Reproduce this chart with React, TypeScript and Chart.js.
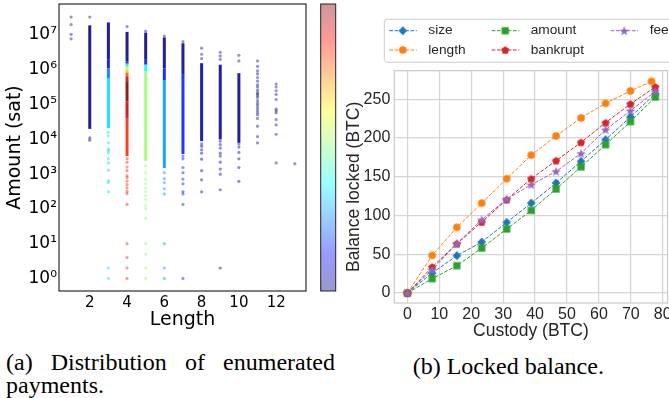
import React, { useEffect, useRef } from "react";
import { Chart, registerables } from "chart.js";

Chart.register(...registerables);

// ================= (a) Distribution of enumerated payments =================
const lengthTicks = [2, 4, 6, 8, 10, 12];
const amountTicks = [1, 10, 100, 1e3, 1e4, 1e5, 1e6, 1e7];
const amountTickLabels = ["10⁰", "10¹", "10²", "10³", "10⁴", "10⁵", "10⁶", "10⁷"];

const pathLengths = [1, 2, 3, 4, 5, 6, 7, 8, 9, 10, 11, 12, 13];

// dense runs of payments: length, lowest / highest amount (sat), density level (0..1)
const runLength = [2, 3, 3, 3, 3, 4, 4, 4, 4, 4, 4, 4, 4, 4, 4, 5, 5, 5, 5, 6, 6, 6, 7, 7, 8, 9, 10];
const runLow = [2.0e4, 1.95e6, 1.1e6, 5.8e5, 2.1e4, 1.75e6, 1.5e6, 1.23e6, 1.0e6, 8.3e5, 6.5e5, 4.7e5, 1.23e5, 4.1e4, 3.3e3, 1.95e6, 1.4e6, 9e5, 2.4e3, 1.1e6, 5.1e5, 1.5e3, 7.2e5, 3.8e3, 8.9e3, 1.0e4, 8.0e3];
const runHigh = [1.9e7, 2.3e7, 1.95e6, 1.1e6, 5.8e5, 1.23e7, 1.75e6, 1.5e6, 1.23e6, 1.0e6, 8.3e5, 6.5e5, 4.7e5, 1.23e5, 4.1e4, 1.17e7, 1.95e6, 1.4e6, 9e5, 8.5e6, 1.1e6, 5.1e5, 5.8e6, 7.2e5, 1.55e6, 1.4e6, 8.0e5];
const runDensity = [0.0, 0.0, 0.13, 0.24, 0.34, 0.0, 0.14, 0.36, 0.56, 0.68, 0.8, 0.9, 1.0, 0.92, 0.84, 0.0, 0.14, 0.38, 0.52, 0.01, 0.14, 0.27, 0.02, 0.15, 0.04, 0.03, 0.02];

// isolated payments (sat) per length: low-density ones, and ones in the column's colour
const sparseLow: number[][] = [
  [3.3e7, 2.0e7, 1.05e7, 7.8e6],
  [3.3e7],
  [],
  [1.75e7],
  [1.3e7],
  [9.3e6],
  [6.5e6],
  [4.2e6, 2.8e6, 2.1e6],
  [3.2e6, 2.5e6, 2.0e6],
  [2.6e6, 1.8e6],
  [1.8e6, 1.26e6, 9.3e5, 7.6e5, 6.0e5, 4.7e5, 3.7e5, 3.2e5, 2.6e5, 2.2e5, 2.0e5, 1.8e5, 1.6e5, 1.3e5, 1.1e5, 9.5e4, 8.0e4, 6.8e4, 5.8e4, 5.1e4, 4.0e4, 2.4e4, 1.2e4, 7.9e3],
  [3.9e5, 3.2e5, 2.5e5, 1.95e5, 1.4e5, 7.4e4, 6.6e4, 5.8e4, 3.7e4, 2.6e4, 1.4e4, 2.1e3],
  [2.0e3],
];
const sparseColumn: number[][] = [
  [],
  [1.1e4, 9.5e3],
  [1.6e4, 1.26e4, 7.9e3, 5.2e3, 4.8e3, 4.1e3, 2.75e3, 2.1e3, 1.3e3, 650, 575, 310, 2, 1],
  [2.8e3, 2.2e3, 1.6e3, 1.26e3, 900, 800, 630, 500, 400, 320, 275, 135, 10, 4, 2, 1],
  [1.75e3, 1.1e3, 720, 525, 400, 316, 240, 186, 123, 100, 54, 10, 5, 2, 1],
  [1.1e3, 740, 575, 380, 270, 10, 2, 1],
  [3.3e3, 2.75e3, 1.55e3, 1.1e3, 720, 525, 316, 270, 135, 1],
  [7.4e3, 6.3e3, 5.0e3, 4.0e3, 2.7e3, 1.26e3, 690, 310],
  [8.9e3, 7.1e3, 5.6e3, 4.0e3, 3.3e3, 2.2e3, 1.4e3, 1.0e3, 355, 2],
  [7.4e3, 6.0e3, 4.2e3, 2.75e3, 1.55e3, 620],
  [],
  [],
  [],
];
const columnDensity = [0.02, 0.02, 0.34, 0.84, 0.52, 0.27, 0.15, 0.06, 0.05, 0.04, 0.02, 0.02, 0.02];

// ================= (b) Locked balance =================
const custody = [0, 7.77, 15.5, 23.3, 31.1, 38.8, 46.6, 54.4, 62.1, 69.9, 77.7];
const custodyLength = [0, 7.77, 15.5, 23.3, 31.1, 38.8, 46.6, 54.4, 62.1, 69.9, 76.5];
const sizeLocked = [0, 25.8, 48.2, 65.8, 91.1, 116, 142, 169.9, 197.9, 227.2, 257.3];
const lengthLocked = [0, 48.5, 84.7, 116, 147.5, 178, 202.7, 226, 244.8, 260.8, 273.2];
const amountLocked = [0, 18.5, 35.2, 58, 82.6, 106.6, 134.3, 162.7, 191.4, 221.1, 253];
const bankruptLocked = [0, 33.5, 63.6, 91.6, 120.4, 147.5, 170.8, 194.4, 219.8, 244, 266];
const feeLocked = [0, 30, 64, 94.6, 121.3, 139.8, 157, 180.2, 210.8, 235.3, 260.3];
const custodyTicks = [0, 10, 20, 30, 40, 50, 60, 70, 80];
const lockedTicks = [0, 50, 100, 150, 200, 250];

const seriesNames = ["size", "length", "amount", "bankrupt", "fee"];

const jet = (t: number, a: number) => {
  const c = (v: number) => Math.round(255 * Math.max(0, Math.min(1, v)));
  const r = c(1.5 - Math.abs(4 * t - 3));
  const g = c(1.5 - Math.abs(4 * t - 2));
  const b = c(1.5 - Math.abs(4 * t - 1));
  return `rgba(${r},${g},${b},${a})`;
};

function makeMarker(shape: string, color: string): HTMLCanvasElement {
  const c = document.createElement("canvas");
  c.width = 12;
  c.height = 12;
  const g = c.getContext("2d")!;
  g.fillStyle = color;
  g.beginPath();
  const cx = 6, cy = 6;
  if (shape === "circle") {
    g.arc(cx, cy, 3.8, 0, Math.PI * 2);
  } else if (shape === "diamond") {
    g.moveTo(cx, cy - 4.6);
    g.lineTo(cx + 4.3, cy);
    g.lineTo(cx, cy + 4.6);
    g.lineTo(cx - 4.3, cy);
  } else if (shape === "square") {
    g.rect(cx - 3.6, cy - 3.6, 7.2, 7.2);
  } else if (shape === "pentagon") {
    for (let k = 0; k < 5; k++) {
      const an = -Math.PI / 2 + (k * 2 * Math.PI) / 5;
      const px = cx + 4.2 * Math.cos(an), py = cy + 0.4 + 4.2 * Math.sin(an);
      if (k === 0) g.moveTo(px, py); else g.lineTo(px, py);
    }
  } else {
    for (let k = 0; k < 10; k++) {
      const an = -Math.PI / 2 + (k * Math.PI) / 5;
      const r = k % 2 ? 2.1 : 5.0;
      const px = cx + r * Math.cos(an), py = cy + 0.5 + r * Math.sin(an);
      if (k === 0) g.moveTo(px, py); else g.lineTo(px, py);
    }
  }
  g.closePath();
  g.fill();
  return c;
}

function ScatterPanel() {
  const ref = useRef<HTMLCanvasElement>(null);
  useEffect(() => {
    const canvas = ref.current!;
    const runs = runLength.map((x, i) => ({ x, y: [runLow[i], runHigh[i]] }));
    const runColors = runDensity.map((d) => jet(d, 0.88));
    const pts: any[] = [];
    const ptColors: string[] = [];
    pathLengths.forEach((len, i) => {
      sparseLow[i].forEach((v) => {
        pts.push({ x: len, y: v });
        ptColors.push(jet(0.02, 0.42));
      });
      sparseColumn[i].forEach((v) => {
        pts.push({ x: len, y: v });
        ptColors.push(jet(columnDensity[i], 0.45));
      });
    });

    const frameAndColorbar = {
      id: "frameAndColorbar",
      afterDraw(chart: any) {
        const { ctx, chartArea: a } = chart;
        ctx.save();
        ctx.strokeStyle = "#000";
        ctx.lineWidth = 1;
        ctx.strokeRect(a.left, a.top, a.right - a.left, a.bottom - a.top);
        const x0 = 320.7, x1 = 335.7;
        const y0 = a.top, y1 = a.bottom;
        const grad = ctx.createLinearGradient(0, y1, 0, y0);
        for (let k = 0; k <= 16; k++) grad.addColorStop(k / 16, jet(k / 16, 0.4));
        ctx.fillStyle = "#fff";
        ctx.fillRect(x0, y0, x1 - x0, y1 - y0);
        ctx.fillStyle = grad;
        ctx.fillRect(x0, y0, x1 - x0, y1 - y0);
        ctx.strokeStyle = "#222";
        ctx.strokeRect(x0, y0, x1 - x0, y1 - y0);
        ctx.restore();
      },
    };

    const chart = new Chart(canvas, {
      type: "scatter",
      data: {
        datasets: [
          {
            type: "bar",
            data: runs,
            backgroundColor: runColors,
            borderWidth: 0,
            inflateAmount: 0,
            barThickness: 3,
            grouped: false,
          } as any,
          {
            type: "scatter",
            data: pts,
            pointBackgroundColor: ptColors,
            pointBorderWidth: 0,
            pointRadius: 1.6,
          } as any,
        ],
      },
      options: {
        animation: false,
        responsive: false,
        devicePixelRatio: 1,
        layout: { padding: { left: 0, top: 1.7, right: 34, bottom: 0 } },
        plugins: { legend: { display: false }, tooltip: { enabled: false } },
        scales: {
          x: {
            type: "linear",
            min: 0.35,
            max: 13.6,
            offset: false,
            afterBuildTicks: (s: any) => {
              s.ticks = lengthTicks.map((v) => ({ value: v }));
            },
            afterFit: (s: any) => {
              s.height = 49;
              s.paddingLeft = 0;
              s.paddingRight = 0;
            },
            grid: { display: false, drawTicks: false },
            border: { display: false },
            ticks: {
              color: "#000",
              padding: 3,
              maxRotation: 0,
              autoSkip: false,
              font: { family: "DejaVu Sans", size: 15 },
            },
            title: {
              display: true,
              text: "Length",
              color: "#000",
              font: { family: "DejaVu Sans", size: 19 },
              padding: { top: 0, bottom: 8.2 },
            },
          },
          y: {
            type: "logarithmic",
            min: 0.436,
            max: 7.8e7,
            afterBuildTicks: (s: any) => {
              s.ticks = amountTicks.map((v) => ({ value: v }));
            },
            afterFit: (s: any) => {
              s.width = 59;
              s.paddingTop = 0;
              s.paddingBottom = 0;
            },
            grid: { display: false, drawTicks: false },
            border: { display: false },
            ticks: {
              color: "#000",
              padding: 2,
              autoSkip: false,
              font: { family: "DejaVu Sans", size: 17 },
              callback: (_v: any, i: number) => amountTickLabels[i],
            },
            title: {
              display: true,
              text: "Amount (sat)",
              color: "#000",
              font: { family: "DejaVu Sans", size: 19 },
              padding: { top: 4.1, bottom: 0 },
            },
          },
        },
      } as any,
      plugins: [frameAndColorbar],
    });
    return () => chart.destroy();
  }, []);
  return (
    <canvas
      ref={ref}
      width={340}
      height={340}
      style={{ position: "absolute", left: 0, top: 0, width: 340, height: 340 }}
    />
  );
}

function LockedPanel() {
  const ref = useRef<HTMLCanvasElement>(null);
  useEffect(() => {
    const canvas = ref.current!;
    const colors = ["#1f77b4", "#ff7f0e", "#2ca02c", "#d62728", "#9467bd"];
    const shapes = ["diamond", "circle", "square", "pentagon", "star"];
    const xs = [custody, custodyLength, custody, custody, custody];
    const ys = [sizeLocked, lengthLocked, amountLocked, bankruptLocked, feeLocked];
    const markers = shapes.map((s, i) => makeMarker(s, colors[i]));
    const dash = [3.7, 1.6];

    const datasets = seriesNames.map((name, i) => ({
      label: name,
      data: xs[i].map((x, j) => ({ x, y: ys[i][j] })),
      borderColor: colors[i],
      backgroundColor: colors[i],
      borderWidth: 1,
      borderDash: dash,
      pointStyle: markers[i],
      pointRadius: 4,
      showLine: true,
      fill: false,
      tension: 0,
      order: 5 - i,
    }));

    const frameAndLegend = {
      id: "frameAndLegend",
      beforeDatasetsDraw(chart: any) {
        const { ctx, chartArea: a } = chart;
        ctx.save();
        ctx.strokeStyle = "#cccccc";
        ctx.lineWidth = 1.25;
        ctx.strokeRect(a.left, a.top, a.right - a.left, a.bottom - a.top);
        ctx.restore();
      },
      afterDraw(chart: any) {
        const ctx = chart.ctx;
        ctx.save();
        const bx = 44.3, by = 19.3, bw = 420, bh = 43, r = 3;
        ctx.beginPath();
        ctx.moveTo(bx + r, by);
        ctx.lineTo(bx + bw - r, by);
        ctx.arcTo(bx + bw, by, bx + bw, by + r, r);
        ctx.lineTo(bx + bw, by + bh - r);
        ctx.arcTo(bx + bw, by + bh, bx + bw - r, by + bh, r);
        ctx.lineTo(bx + r, by + bh);
        ctx.arcTo(bx, by + bh, bx, by + bh - r, r);
        ctx.lineTo(bx, by + r);
        ctx.arcTo(bx, by, bx + r, by, r);
        ctx.closePath();
        ctx.fillStyle = "rgba(255,255,255,0.85)";
        ctx.fill();
        ctx.strokeStyle = "#cccccc";
        ctx.lineWidth = 1;
        ctx.stroke();
        const colX = [49.3, 151.7, 270.7];
        const rowY = [30.7, 50];
        seriesNames.forEach((name, i) => {
          const x0 = colX[Math.floor(i / 2)];
          const y = rowY[i % 2];
          ctx.setLineDash(dash);
          ctx.strokeStyle = colors[i];
          ctx.lineWidth = 1;
          ctx.beginPath();
          ctx.moveTo(x0, y);
          ctx.lineTo(x0 + 27.5, y);
          ctx.stroke();
          ctx.setLineDash([]);
          ctx.drawImage(markers[i], x0 + 13.5 - 6, y - 6);
          ctx.fillStyle = "#262626";
          ctx.font = '13.7px "Liberation Sans"';
          ctx.textBaseline = "middle";
          ctx.textAlign = "left";
          ctx.fillText(name, x0 + 39, y);
        });
        ctx.restore();
      },
    };

    const chart = new Chart(canvas, {
      type: "line",
      data: { datasets } as any,
      options: {
        animation: false,
        responsive: false,
        devicePixelRatio: 1,
        layout: { padding: { left: 0, top: 70.7, right: 32.5, bottom: 0 } },
        plugins: { legend: { display: false }, tooltip: { enabled: false } },
        scales: {
          x: {
            type: "linear",
            min: -4.1,
            max: 81.5,
            afterBuildTicks: (s: any) => {
              s.ticks = custodyTicks.map((v) => ({ value: v }));
            },
            afterFit: (s: any) => {
              s.height = 42;
              s.paddingLeft = 0;
              s.paddingRight = 0;
            },
            grid: { color: "#d5d5d5", lineWidth: 1.2, drawTicks: false },
            border: { display: false },
            ticks: {
              color: "#262626",
              padding: 1.6,
              maxRotation: 0,
              autoSkip: false,
              font: { family: "Liberation Sans", size: 16 },
            },
            title: {
              display: true,
              text: "Custody (BTC)",
              color: "#262626",
              font: { family: "Liberation Sans", size: 17.5 },
              padding: { top: 0, bottom: 3.8 },
            },
          },
          y: {
            type: "linear",
            min: -12.9,
            max: 286.9,
            afterBuildTicks: (s: any) => {
              s.ticks = lockedTicks.map((v) => ({ value: v }));
            },
            afterFit: (s: any) => {
              s.width = 54.3;
              s.paddingTop = 0;
              s.paddingBottom = 0;
            },
            grid: { color: "#d5d5d5", lineWidth: 1.2, drawTicks: false },
            border: { display: false },
            ticks: {
              color: "#262626",
              padding: 4,
              autoSkip: false,
              font: { family: "Liberation Sans", size: 16 },
            },
            title: {
              display: true,
              text: "Balance locked (BTC)",
              color: "#262626",
              font: { family: "Liberation Sans", size: 17.5 },
              padding: { top: 3.3, bottom: 0 },
            },
          },
        },
      } as any,
      plugins: [frameAndLegend],
    });
    return () => chart.destroy();
  }, []);
  return (
    <canvas
      ref={ref}
      width={360}
      height={345}
      style={{ position: "absolute", left: 340, top: 0, width: 360, height: 345 }}
    />
  );
}

export default function App() {
  const caption: React.CSSProperties = {
    position: "absolute",
    fontFamily: '"Liberation Serif", "Times New Roman", serif',
    fontSize: 24,
    lineHeight: "23px",
    color: "#000",
  };
  return (
    <div
      style={{
        position: "absolute",
        left: 0,
        top: 0,
        width: 669,
        height: 398,
        overflow: "hidden",
        background: "#fff",
      }}
    >
      <ScatterPanel />
      <LockedPanel />
      <div style={{ ...caption, left: 6, top: 351, width: 329, textAlign: "justify" }}>
        (a) Distribution of enumerated payments.
      </div>
      <div style={{ ...caption, left: 412.7, top: 355.4, whiteSpace: "nowrap" }}>
        (b) Locked balance.
      </div>
    </div>
  );
}
